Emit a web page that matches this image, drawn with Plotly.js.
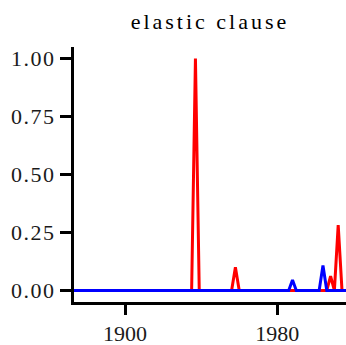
<!DOCTYPE html>
<html>
<head>
<meta charset="utf-8">
<script src="https://cdn.plot.ly/plotly-3.0.1.min.js"></script>
<style>
  html, body { margin: 0; padding: 0; background: #fff; }
  #chart { width: 346px; height: 345px; }
  .gtitle { letter-spacing: 3px; }
  .ytick text { letter-spacing: 1.5px; }
</style>
</head>
<body>
<div id="chart"></div>
<script>
// Series (breakpoints of each line; value 0 elsewhere)
const redYears  = [1870, 1935, 1937, 1939, 1956, 1958, 1960, 2006, 2008, 2010, 2012, 2014, 2019];
const redValues = [0,    0,    1.0,  0,    0,    0.10, 0,    0,    0.062, 0,   0.282, 0,    0];
const blueYears  = [1870, 1986, 1988,  1990, 2002, 2004,  2006, 2019];
const blueValues = [0,    0,    0.045, 0,    0,    0.107, 0,    0];

const xTickVals = [1900, 1980];
const xTickText = ["1900", "1980"];
const yTickVals = [0, 0.25, 0.5, 0.75, 1.0];
const yTickText = ["0.00", "0.25", "0.50", "0.75", "1.00"];
const chartTitle = "elastic clause";

const FONT = "Liberation Serif, serif";

const traces = [
  { x: redYears, y: redValues, type: "scatter", mode: "lines",
    line: { color: "#FF0000", width: 3 }, hoverinfo: "skip" },
  { x: blueYears, y: blueValues, type: "scatter", mode: "lines",
    line: { color: "#0000FF", width: 3 }, hoverinfo: "skip" }
];

const layout = {
  width: 346, height: 345,
  margin: { l: 74, r: 0, t: 47, b: 43, pad: 0 },
  paper_bgcolor: "#ffffff", plot_bgcolor: "#ffffff",
  showlegend: false,
  title: { text: chartTitle, x: 0.5, xref: "paper", xanchor: "center",
           y: 1 - 21 / 345, yref: "container", yanchor: "middle",
           font: { family: FONT, size: 22, color: "#000000" } },
  xaxis: {
    range: [1873.2, 2016.1], showgrid: false, zeroline: false,
    showline: true, linecolor: "#000000", linewidth: 3,
    ticks: "outside", ticklen: 10, tickwidth: 3, tickcolor: "#000000",
    tickvals: xTickVals, ticktext: xTickText,
    tickfont: { family: FONT, size: 22, color: "#1a1a1a" }
  },
  yaxis: {
    range: [-0.05, 1.05], showgrid: false, zeroline: false,
    showline: true, linecolor: "#000000", linewidth: 3,
    ticks: "outside", ticklen: 11, tickwidth: 3, tickcolor: "#000000",
    tickvals: yTickVals, ticktext: yTickText,
    tickfont: { family: FONT, size: 22, color: "#1a1a1a" }
  }
};

Plotly.newPlot("chart", traces, layout, { staticPlot: true, displayModeBar: false });
</script>
</body>
</html>
